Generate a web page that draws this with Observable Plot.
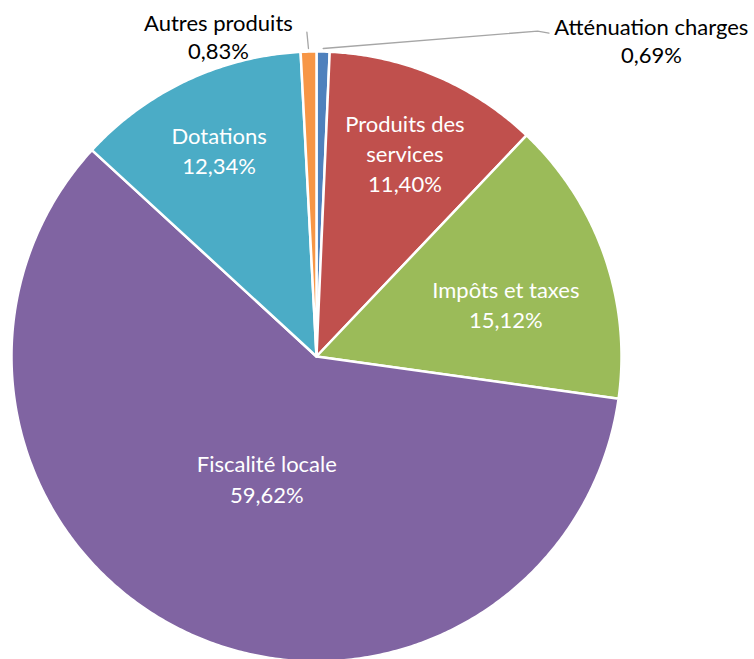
<!DOCTYPE html>
<html>
<head>
<meta charset="utf-8">
<script src="https://cdn.jsdelivr.net/npm/d3@7"></script>
<script src="https://cdn.jsdelivr.net/npm/@observablehq/plot@0.6"></script>
<style>
  html, body { margin: 0; padding: 0; background: #fff; }
  #chart svg { display: block; }
</style>
</head>
<body>
<div id="chart"></div>
<script>
// ---- Data ----
const categories = ["Atténuation charges", "Produits des services", "Impôts et taxes", "Fiscalité locale", "Dotations", "Autres produits"];
const labelNames = ["Atténuation charges", "Produits des\nservices", "Impôts et taxes", "Fiscalité locale", "Dotations", "Autres produits"];
const shares = [0.69, 11.40, 15.12, 59.62, 12.34, 0.83];
const colors = ["#4F81BD", "#C0504D", "#9BBB59", "#8064A2", "#4BACC6", "#F79646"];

// ---- Label layout (polar: radius fraction, angle offset in degrees from slice middle) ----
const labelRadius = [1.51, 0.73, 0.645, 0.43, 0.75, 1.10];
const labelAngle  = [45.4, 0.4, 3.5, -3, 0, -15.5];
const labelInside = [false, true, true, true, true, false];
const leaderEnd   = [[[1.29, 34.2], [1.306, 35.7]], null, null, null, null, [[1.064, -1.7]]];

const total = d3.sum(shares);
const fmt = v => v.toFixed(2).replace(".", ",") + "%";

// slice angles (radians, clockwise from 12 o'clock)
let acc = 0;
const slices = categories.map((c, i) => {
  const a0 = acc / total * 2 * Math.PI;
  acc += shares[i];
  const a1 = acc / total * 2 * Math.PI;
  return {cat: c, i, a0, a1, mid: (a0 + a1) / 2};
});

const polar = (r, a) => ({x: r * Math.sin(a), y: r * Math.cos(a)});

// polygons
const piePts = [];
for (const s of slices) {
  piePts.push({cat: s.cat, ...polar(0, 0)});
  const n = Math.max(2, Math.ceil((s.a1 - s.a0) / (Math.PI / 360)));
  for (let k = 0; k <= n; k++) {
    const a = s.a0 + (s.a1 - s.a0) * k / n;
    piePts.push({cat: s.cat, ...polar(1, a)});
  }
  piePts.push({cat: s.cat, ...polar(0, 0)});
}

// labels
const labels = slices.map(s => {
  const a = s.mid + labelAngle[s.i] * Math.PI / 180;
  return {
    cat: s.cat,
    text: labelNames[s.i] + "\n" + fmt(shares[s.i]),
    inside: labelInside[s.i],
    ...polar(labelRadius[s.i], a)
  };
});

// leader lines
const leaders = [];
slices.forEach(s => {
  const e = leaderEnd[s.i];
  if (!e) return;
  leaders.push({cat: s.cat, ...polar(1.01, s.mid)});
  for (const p of e) leaders.push({cat: s.cat, ...polar(p[0], p[1] * Math.PI / 180)});
});

const cx = 316, cy = 356, R = 305;

const chart = Plot.plot({
  width: 754,
  height: 659,
  margin: 0,
  style: {background: "#fff", fontFamily: "Lato, 'Open Sans', sans-serif"},
  x: {domain: [-1, 1], range: [cx - R, cx + R], axis: null},
  y: {domain: [-1, 1], range: [cy + R, cy - R], axis: null},
  color: {domain: categories, range: colors},
  marks: [
    Plot.line(piePts, {x: "x", y: "y", z: "cat", fill: "cat", stroke: "white", strokeWidth: 2.5, strokeLinejoin: "round", curve: "linear"}),
    Plot.line(leaders, {x: "x", y: "y", z: "cat", stroke: "#a6a6a6", strokeWidth: 1.3}),
    Plot.text(labels.filter(d => d.inside), {x: "x", y: "y", text: "text", fill: "white", fontSize: 22, lineHeight: 1.38}),
    Plot.text(labels.filter(d => !d.inside), {x: "x", y: "y", text: "text", fill: "#000", fontSize: 22, lineHeight: 1.28})
  ]
});
document.getElementById("chart").appendChild(chart);
</script>
</body>
</html>
